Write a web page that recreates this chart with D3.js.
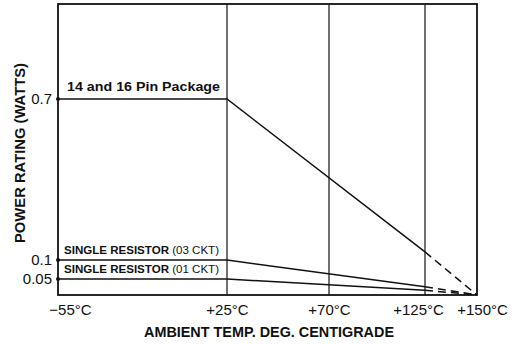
<!DOCTYPE html>
<html><head><meta charset="utf-8">
<script src="https://cdn.jsdelivr.net/npm/d3@7"></script>
<style>body{margin:0;background:#fff}svg{display:block}text{font-family:"Liberation Sans",Arial,Helvetica,sans-serif;fill:#111}</style>
</head><body><svg id="c" width="514" height="344"></svg>
<script>
// Data
const xTicks = [-55, 25, 70, 125, 150];
const xTickLabels = ["\u221255\u00B0C", "+25\u00B0C", "+70\u00B0C", "+125\u00B0C", "+150\u00B0C"];
const yTicks = [0.05, 0.1, 0.7];
const yTickLabels = ["0.05", "0.1", "0.7"];
const seriesNames = ["14 and 16 Pin Package", "SINGLE RESISTOR (03 CKT)", "SINGLE RESISTOR (01 CKT)"];
const tempSolid = [-55, 25, 125];
const pinPackage = [0.7, 0.7, 0.13];
const resistor03 = [0.1, 0.1, 0.026];
const resistor01 = [0.05, 0.05, 0.015];
const tempDashed = [125, 150];
const endValue = 0;

// Layout
const svg = d3.select("#c");
const pL = 58, pR = 477, pT = 4, pB = 295;
// The original chart uses non-uniform axis spacing; piecewise-linear scales reproduce it
const x = d3.scaleLinear().domain([-55, 25, 70, 125, 150]).range([pL, 227, 329, 425, pR]);
const y = d3.scaleLinear().domain([0, 0.05, 0.1, 0.7, 1.0]).range([pB, 279, 260, 99, pT]);

// gridlines
svg.append("g").selectAll("line").data(xTicks.slice(1, -1)).join("line")
  .attr("x1", d => x(d)).attr("x2", d => x(d)).attr("y1", pT).attr("y2", pB)
  .attr("stroke", "#111").attr("stroke-width", 1.2);

// frame
svg.append("rect").attr("x", pL).attr("y", pT).attr("width", pR - pL).attr("height", pB - pT)
  .attr("fill", "none").attr("stroke", "#111").attr("stroke-width", 1.8);

// series
const series = [pinPackage, resistor03, resistor01];
const line = d3.line().x(d => x(d[0])).y(d => y(d[1]));
series.forEach((vals, i) => {
  const solid = tempSolid.map((t, j) => [t, vals[j]]);
  svg.append("path").attr("d", line(solid)).attr("fill", "none").attr("stroke", "#111").attr("stroke-width", 1.5);
  const dashed = [[tempDashed[0], vals[vals.length - 1]], [tempDashed[1], endValue]];
  svg.append("path").attr("d", line(dashed)).attr("fill", "none").attr("stroke", "#111")
    .attr("stroke-width", 1.5).attr("stroke-dasharray", "8,5");
  svg.append("circle").attr("cx", x(tempSolid[0])).attr("cy", y(vals[0])).attr("r", 2).attr("fill", "#111");
});

// y axis tick labels
const yAxis = d3.axisLeft(y).tickValues(yTicks).tickSize(0).tickPadding(6)
  .tickFormat((d, i) => yTickLabels[i]);
const gy = svg.append("g").attr("transform", `translate(${pL},0)`).call(yAxis);
gy.select(".domain").remove();
gy.selectAll("text").attr("font-size", 15).attr("font-family", '"Liberation Sans",Arial,sans-serif').attr("fill", "#111");

// x axis tick labels
const xOffsets = [12, 0, 0, -7, 5];
const xAxis = d3.axisBottom(x).tickValues(xTicks).tickSize(0).tickPadding(9)
  .tickFormat((d, i) => xTickLabels[i]);
const gx = svg.append("g").attr("transform", `translate(0,${pB})`).call(xAxis);
gx.select(".domain").remove();
gx.selectAll("text").attr("font-size", 15).attr("font-family", '"Liberation Sans",Arial,sans-serif').attr("fill", "#111")
  .attr("dx", (d, i) => xOffsets[i]);

// series labels
svg.append("text").attr("x", 67).attr("y", 91).attr("font-size", 12.5).attr("font-weight", "bold")
  .attr("textLength", 153).attr("lengthAdjust", "spacingAndGlyphs").text(seriesNames[0]);
function resLabel(name, yy) {
  const m = name.match(/^(.*?)\s(\(.*\))$/);
  const t = svg.append("text").attr("x", 64).attr("y", yy).attr("font-size", 11);
  t.append("tspan").attr("font-weight", "bold").text(m[1] + " ");
  t.append("tspan").text(m[2]);
  t.attr("textLength", 155).attr("lengthAdjust", "spacingAndGlyphs");
}
resLabel(seriesNames[1], 254);
resLabel(seriesNames[2], 273);

// axis titles
svg.append("text").attr("x", 269).attr("y", 337).attr("text-anchor", "middle").attr("font-size", 14.5)
  .attr("font-weight", "bold").attr("textLength", 250).attr("lengthAdjust", "spacingAndGlyphs")
  .text("AMBIENT TEMP. DEG. CENTIGRADE");
svg.append("text").attr("transform", "translate(25,153) rotate(-90)").attr("text-anchor", "middle")
  .attr("font-size", 14).attr("font-weight", "bold").attr("textLength", 180).attr("lengthAdjust", "spacingAndGlyphs")
  .text("POWER RATING (WATTS)");
</script></body></html>
